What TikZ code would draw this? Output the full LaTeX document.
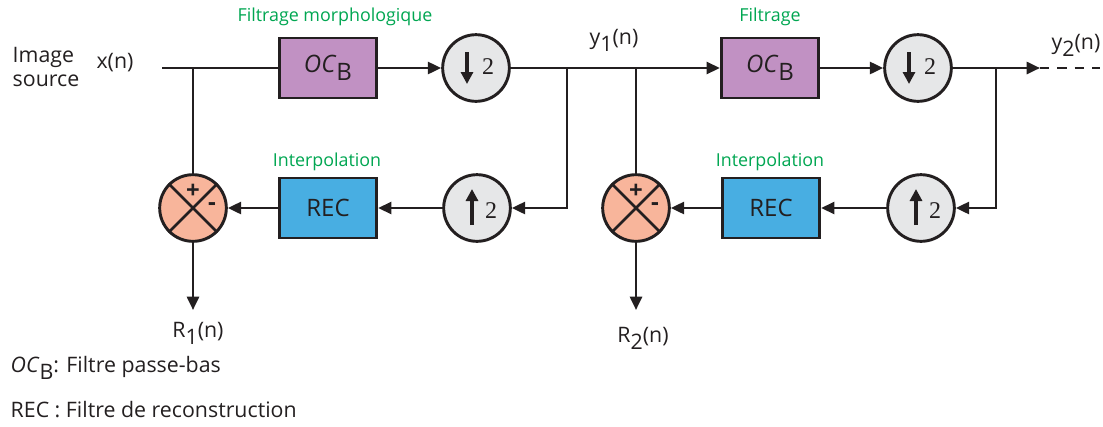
\documentclass[tikz,border=0pt]{standalone}
\usepackage{fontspec}
\setmainfont{Open Sans}
\newfontfamily\serifdigit{Liberation Serif}
\usetikzlibrary{arrows.meta,calc}
\newcommand\lowsub[1]{\raisebox{-0.6ex}{#1}}
\definecolor{boxpurple}{HTML}{C191C3}
\definecolor{boxblue}{HTML}{48AEE2}
\definecolor{circgray}{HTML}{E6E7E8}
\definecolor{sumsalmon}{HTML}{F8B59B}
\definecolor{labelgreen}{HTML}{00A651}
\definecolor{ink}{HTML}{231F20}
\begin{document}
\begin{tikzpicture}[x=0.75pt,y=-0.75pt,
  font=\fontsize{16}{18}\selectfont, text=ink,
  wire/.style={line width=2pt, draw=ink},
  arr/.style={wire, -{Triangle[length=10pt,width=9pt]}},
  smallarr/.style={line width=2.4pt, draw=ink, -{Triangle[length=9pt,width=9pt]}},
  filt/.style={draw=ink, line width=2.2pt, fill=boxpurple, minimum width=73pt, minimum height=45pt, inner sep=0pt, font=\fontsize{18}{20}\selectfont},
  recb/.style={filt, fill=boxblue},
  samp/.style={circle, draw=ink, line width=2.2pt, fill=circgray, minimum size=50pt, inner sep=0pt},
  sumc/.style={circle, draw=ink, line width=2.2pt, fill=sumsalmon, minimum size=50pt, inner sep=0pt},
  glabel/.style={text=labelgreen, font=\fontsize{13.4}{15}\selectfont},
  two/.style={font=\serifdigit\fontsize{18}{18}\selectfont, inner sep=0pt},
  sign/.style={font=\bfseries\fontsize{18}{18}\selectfont, inner sep=0pt}
]
\useasboundingbox (0,0) rectangle (1103,426);

% blocks
\node[filt] (oc1) at (328,68) {\textit{OC}\lowsub{B}};
\node[samp] (d1) at (476,68) {};
\node[filt] (oc2) at (770,68) {\textit{OC}\lowsub{B}};
\node[samp] (d2) at (918,68) {};
\node[samp] (u1) at (477,208) {};
\node[recb] (rec1) at (328,208) {REC};
\node[sumc] (s1) at (193,208) {};
\node[samp] (u2) at (921,208) {};
\node[recb] (rec2) at (771,208) {REC};
\node[sumc] (s2) at (636,208) {};

% sampler symbols
\foreach \c in {d1,d2}{
  \draw[smallarr] ($(\c)+(-9,-16)$) -- ($(\c)+(-9,16)$);
  \node[two] at ($(\c)+(12,-1)$) {2};
}
\foreach \c in {u1,u2}{
  \draw[smallarr] ($(\c)+(-5,17)$) -- ($(\c)+(-5,-19)$);
  \node[two] at ($(\c)+(14,3)$) {2};
}
% summers
\foreach \c in {s1,s2}{
  \draw[wire] (\c.45) -- (\c.225) (\c.135) -- (\c.315);
  \node[sign] at ($(\c)+(0,-17)$) {+};
  \node[sign] at ($(\c)+(19,-1)$) {-};
}

% junctions
\coordinate (xin) at (162,68);
\coordinate (j1) at (193,68);
\coordinate (j2) at (567,68);
\coordinate (j3) at (636,68);
\coordinate (j4) at (996,68);
\coordinate (yout) at (1040,68);
\coordinate (dend) at (1100,68);
\coordinate (r1) at (193,310);
\coordinate (r2) at (636,310);

% wires
\draw[wire] (xin) -- (oc1.west);
\draw[wire] (j1) -- (s1.north);
\draw[arr] (oc1.east) -- (d1.west);
\draw[arr] (d1.east) -- (oc2.west);
\draw[arr] (j2) |- (u1.east);
\draw[wire] (j3) -- (s2.north);
\draw[arr] (oc2.east) -- (d2.west);
\draw[arr] (d2.east) -- (yout);
\draw[wire, dash pattern=on 7pt off 6pt] (yout) -- (dend);
\draw[arr] (j4) |- (u2.east);
\draw[arr] (u1.west) -- (rec1.east);
\draw[arr] (rec1.west) -- (s1.east);
\draw[arr] (u2.west) -- (rec2.east);
\draw[arr] (rec2.west) -- (s2.east);
\draw[arr] (s1.south) -- (r1);
\draw[arr] (s2.south) -- (r2);

% labels
\node[anchor=west] (img) at (8,57) {Image};
\node[anchor=west] (src) at (8,81) {source};
\node (xl) at (115,63) {x(n)};
\node (y1l) at (614,40) {y\lowsub{1}(n)};
\node (y2l) at (1076,45) {y\lowsub{2}(n)};
\node[glabel] (g1) at (335,17) {Filtrage morphologique};
\node[glabel] (g2) at (770,17) {Filtrage};
\node[glabel] (g3) at (327,162) {Interpolation};
\node[glabel] (g4) at (770,162) {Interpolation};
\node (r1l) at (198,333) {R\lowsub{1}(n)};
\node (r2l) at (643,338) {R\lowsub{2}(n)};
\node[anchor=west] (leg1) at (6,368) {\textit{OC}\lowsub{B}: Filtre passe-bas};
\node[anchor=west] (leg2) at (6,410) {REC : Filtre de reconstruction};
\end{tikzpicture}
\end{document}
